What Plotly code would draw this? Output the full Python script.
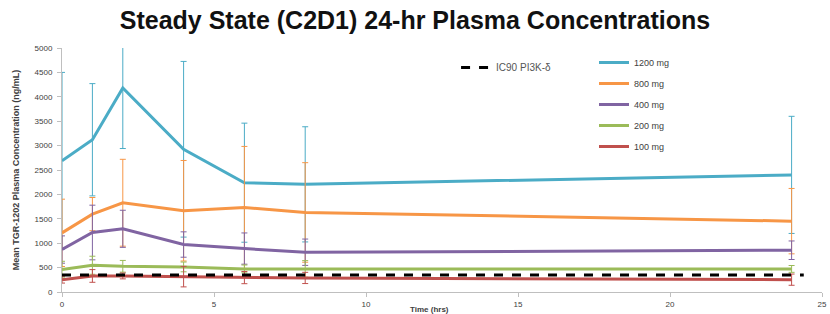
import plotly.graph_objects as go

time_hrs = [0, 1, 2, 4, 6, 8, 24]
dose_labels = ["1200 mg", "800 mg", "400 mg", "200 mg", "100 mg"]
colors = ["#4bacc6", "#f79646", "#8064a2", "#9bbb59", "#c0504d"]

mean_1200 = [2690, 3120, 4180, 2925, 2240, 2206, 2400]
err_1200 = [1810, 1150, 1240, 1800, 1220, 1180, 1200]
mean_800 = [1212, 1596, 1829, 1665, 1733, 1630, 1452]
err_800 = [690, 340, 890, 1030, 1250, 1020, 670]
mean_400 = [870, 1219, 1295, 973, 890, 815, 856]
err_400 = [280, 560, 380, 260, 320, 270, 190]
mean_200 = [459, 548, 527, 514, 473, 473, 473]
err_200 = [170, 185, 120, 100, 80, 170, 70]
mean_100 = [253, 329, 329, 315, 295, 288, 253]
err_100 = [70, 130, 60, 210, 125, 115, 115]

means = [mean_1200, mean_800, mean_400, mean_200, mean_100]
errs = [err_1200, err_800, err_400, err_200, err_100]

ic90_x = [0, 24.4]
ic90_y = [350, 350]

x_ticks = [0, 5, 10, 15, 20, 25]
y_ticks = [0, 500, 1000, 1500, 2000, 2500, 3000, 3500, 4000, 4500, 5000]

fig = go.Figure()
for lab, col, m, e in zip(dose_labels, colors, means, errs):
    fig.add_trace(go.Scatter(
        x=time_hrs, y=m, mode="lines", name=lab, legendgroup=lab,
        line=dict(color=col, width=3),
        error_y=dict(type="data", array=e, symmetric=True, color=col, thickness=1, width=3),
        legend="legend2",
    ))

fig.add_trace(go.Scatter(
    x=ic90_x, y=ic90_y, mode="lines", name="IC90 PI3K-δ",
    line=dict(color="black", width=3, dash="dash"),
    legend="legend",
))

fig.update_layout(
    width=830, height=314,
    margin=dict(l=62, r=8, t=48, b=22, autoexpand=False),
    paper_bgcolor="white", plot_bgcolor="white",
    font=dict(family="Liberation Sans, Arial, sans-serif", color="#404040"),
    title=dict(text="<b>Steady State (C2D1) 24-hr Plasma Concentrations</b>",
               x=0.5, xanchor="center", y=0.937, yanchor="middle",
               font=dict(size=25, color="#111111", family="Liberation Sans, Arial, sans-serif")),
    showlegend=True,
    legend=dict(x=0.5185, y=0.98, xanchor="left", yanchor="top",
                bgcolor="rgba(0,0,0,0)", font=dict(size=10, color="#555555"),
                itemwidth=30),
    legend2=dict(x=0.700, y=1.0, xanchor="left", yanchor="top",
                 bgcolor="rgba(0,0,0,0)", font=dict(size=9, color="#404040"),
                 itemwidth=30, tracegroupgap=2),
    xaxis=dict(range=[0, 25], tickvals=x_ticks, showgrid=False, zeroline=False,
               automargin=False,
               showline=True, linecolor="#bfbfbf", linewidth=1,
               ticks="outside", ticklen=4, tickcolor="#bfbfbf",
               tickfont=dict(size=8, color="#404040")),
    yaxis=dict(range=[0, 5000], tickvals=y_ticks, showgrid=False, zeroline=False,
               automargin=False,
               showline=True, linecolor="#bfbfbf", linewidth=1,
               ticks="outside", ticklen=4, tickcolor="#bfbfbf", ticklabelstandoff=3,
               tickfont=dict(size=8, color="#404040"),
               title=dict(text="<b>Mean TGR-1202 Plasma Concentration (ng/mL)</b>",
                          font=dict(size=9, color="#404040"), standoff=13)),
    annotations=[dict(text="<b>Time (hrs)</b>", xref="paper", yref="paper",
                      x=0.484, y=-0.072, xanchor="center", yanchor="middle",
                      showarrow=False, font=dict(size=8, color="#404040"))],
)

fig.write_html("out.html", config={"displayModeBar": False},
               post_script="document.body.style.margin='0px';")
